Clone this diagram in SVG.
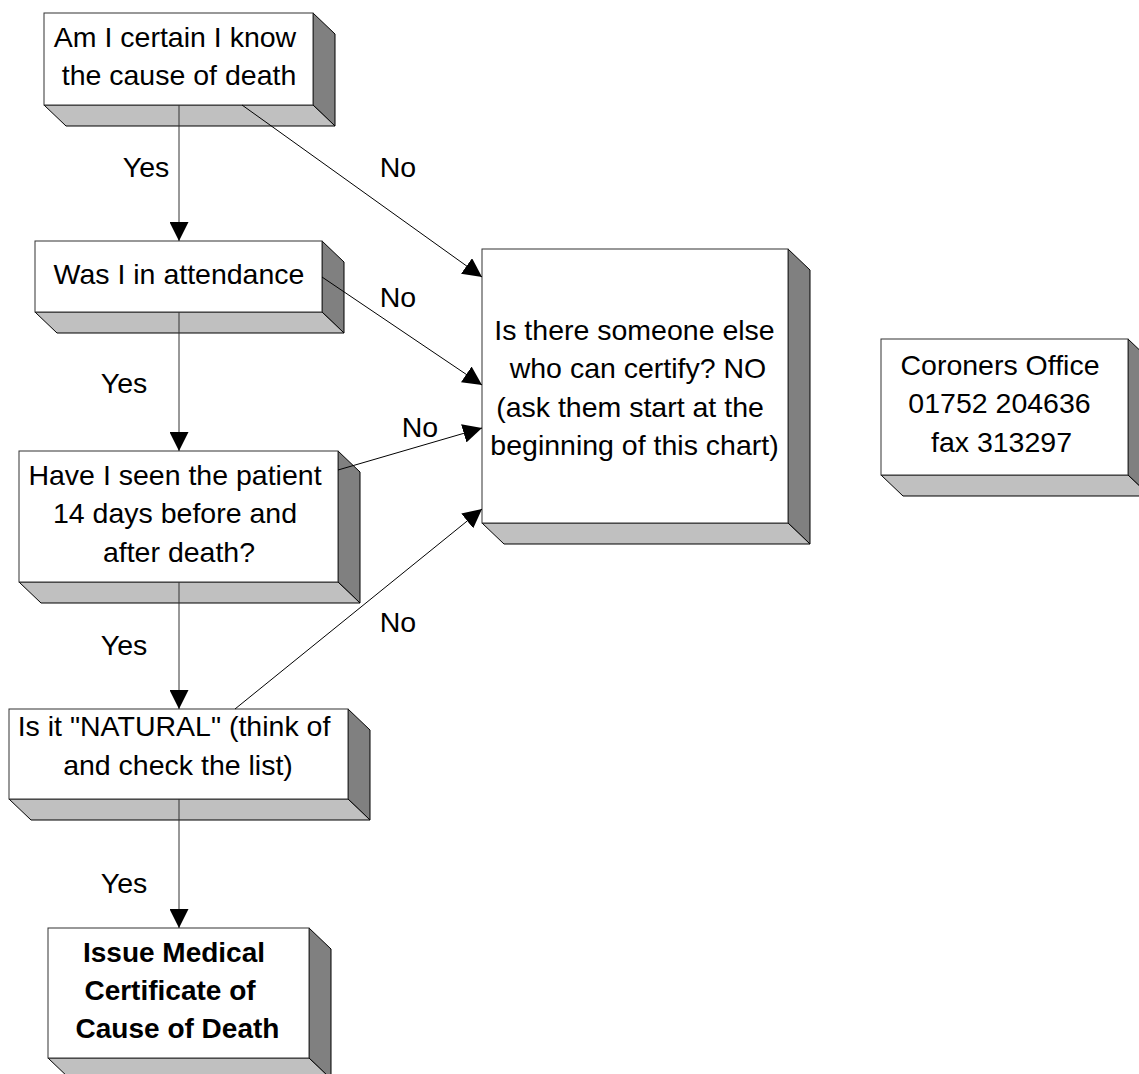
<svg xmlns="http://www.w3.org/2000/svg" width="1139" height="1074" viewBox="0 0 1139 1074">
<style>
.front{fill:#fff;stroke:#333;stroke-width:1}
.side{fill:#808080;stroke:#000;stroke-width:1}
.bottom{fill:#c0c0c0;stroke:#000;stroke-width:1}
text{font-family:"Liberation Sans",Arial,sans-serif;font-size:28.5px;fill:#000;text-anchor:middle}
.b{font-weight:bold;font-size:28px}
.conn{stroke:#000;stroke-width:1;fill:none}
.v{stroke:#333}
</style>
<defs>
<marker id="arr" markerUnits="userSpaceOnUse" markerWidth="19" markerHeight="19" viewBox="0 0 19 19" refX="19" refY="9.5" orient="auto">
<path d="M0,0 L19,9.5 L0,19 Z" fill="#000"/>
</marker>
</defs>
<rect width="1139" height="1074" fill="#fff"/>

<g id="n1">
<polygon class="side" points="313,13 335,34 335,126 313,105"/>
<polygon class="bottom" points="44,105 313,105 335,126 66,126"/>
<rect class="front" x="44" y="13" width="269" height="92"/>
<text x="175" y="47">Am I certain I know</text>
<text x="179" y="85">the cause of death</text>
</g>

<g id="n2">
<polygon class="side" points="322,241 344,262 344,333 322,312"/>
<polygon class="bottom" points="35,312 322,312 344,333 57,333"/>
<rect class="front" x="35" y="241" width="287" height="71"/>
<text x="179" y="284">Was I in attendance</text>
</g>

<g id="n3">
<polygon class="side" points="338,451 360,472 360,603 338,582"/>
<polygon class="bottom" points="19,582 338,582 360,603 41,603"/>
<rect class="front" x="19" y="451" width="319" height="131"/>
<text x="175" y="485">Have I seen the patient</text>
<text x="175" y="523">14 days before and</text>
<text x="179" y="562">after death?</text>
</g>

<g id="n4">
<polygon class="side" points="348,709 370,730 370,820 348,799"/>
<polygon class="bottom" points="9,799 348,799 370,820 31,820"/>
<rect class="front" x="9" y="709" width="339" height="90"/>
<text x="174" y="736">Is it "NATURAL" (think of</text>
<text x="178" y="775">and check the list)</text>
</g>

<g id="n5">
<polygon class="side" points="309,928 331,949 331,1079 309,1058"/>
<polygon class="bottom" points="48,1058 309,1058 331,1079 70,1079"/>
<rect class="front" x="48" y="928" width="261" height="130"/>
<text class="b" x="174" y="962">Issue Medical</text>
<text class="b" x="170" y="1000">Certificate of</text>
<text class="b" x="177.5" y="1038">Cause of Death</text>
</g>

<g id="n6">
<polygon class="side" points="788,249 810,270 810,544 788,523"/>
<polygon class="bottom" points="482,523 788,523 810,544 504,544"/>
<rect class="front" x="482" y="249" width="306" height="274"/>
<text x="634.5" y="340">Is there someone else</text>
<text x="638" y="378">who can certify? NO</text>
<text x="630" y="417">(ask them start at the</text>
<text x="634.5" y="455">beginning of this chart)</text>
</g>

<g id="n7">
<polygon class="side" points="1128,339 1150,360 1150,496 1128,475"/>
<polygon class="bottom" points="881,475 1128,475 1150,496 903,496"/>
<rect class="front" x="881" y="339" width="247" height="136"/>
<text x="1000" y="375">Coroners Office</text>
<text x="999.5" y="413">01752 204636</text>
<text x="1001.5" y="452">fax 313297</text>
</g>

<g id="connectors">
<line class="conn v" x1="179" y1="105" x2="179" y2="241" marker-end="url(#arr)"/>
<line class="conn v" x1="179" y1="312" x2="179" y2="451" marker-end="url(#arr)"/>
<line class="conn v" x1="179" y1="582" x2="179" y2="709" marker-end="url(#arr)"/>
<line class="conn v" x1="179" y1="799" x2="179" y2="928" marker-end="url(#arr)"/>
<line class="conn" x1="242" y1="105" x2="482" y2="277" marker-end="url(#arr)"/>
<line class="conn" x1="322" y1="277" x2="482" y2="385" marker-end="url(#arr)"/>
<line class="conn" x1="338" y1="470" x2="482" y2="428" marker-end="url(#arr)"/>
<line class="conn" x1="235" y1="709" x2="482" y2="509" marker-end="url(#arr)"/>
<text x="146" y="177">Yes</text>
<text x="124" y="393">Yes</text>
<text x="124" y="655">Yes</text>
<text x="124" y="893">Yes</text>
<text x="398" y="177">No</text>
<text x="398" y="307">No</text>
<text x="420" y="437">No</text>
<text x="398" y="632">No</text>
</g>
</svg>
